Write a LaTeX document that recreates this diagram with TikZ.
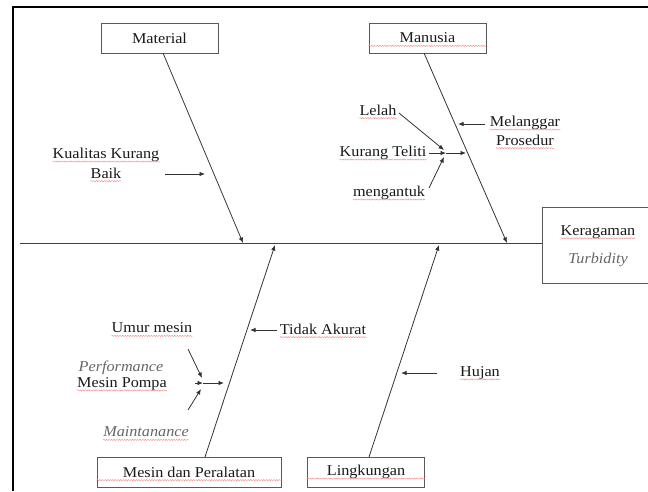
\documentclass[tikz,border=0pt]{standalone}
\usepackage{fontspec}
\setmainfont{Liberation Serif}[FakeStretch=1.08]
\usetikzlibrary{arrows.meta,decorations.pathmorphing}
\tikzset{
  every node/.style={font=\fontsize{15}{17}\selectfont, text=black!90, inner sep=0pt},
  box/.style={draw=black!65, line width=0.9pt, minimum height=30pt, inner sep=0pt},
  bone/.style={draw=black!75, line width=0.8pt},
  arr/.style={draw=black!80, line width=0.8pt, -{Latex[length=5.5pt,width=4.5pt]}},
  itl/.style={text=black!60, font=\fontsize{15}{17}\selectfont\itshape},
  squig/.style={draw=red!45, line width=0.45pt, decorate,
    decoration={snake, amplitude=0.6pt, segment length=2.6pt}},
}
\newcommand\sqn[1]{\draw[squig] ([yshift=-3pt]#1.base west) -- ([yshift=-3pt]#1.base east);}
\begin{document}
\begin{tikzpicture}[x=1pt,y=-1pt]
\useasboundingbox (0,0) rectangle (648,491);
% frame
\draw[line width=2pt] (13,491) -- (13,7) -- (648,7);
% category boxes
\node[box, minimum width=117pt] (mat) at (159.5,38) {Material};
\node[box, minimum width=117pt] (man) at (427.5,38) {Manusia};
\node[box, minimum width=184pt] (mes) at (189,472) {Mesin dan Peralatan};
\node[box, minimum width=117pt] (lin) at (366,472) {Lingkungan};
\node[box, minimum width=112pt, minimum height=76pt] (ker) at (598,245) {};
\node (ker1) at (598,232) {Keragaman};
\node[itl] (ker2) at (598,260) {Turbidity};
\sqn{man} \sqn{mes} \sqn{lin} \sqn{ker1}
% spine
\coordinate (sp0) at (20,243);
\draw[bone] (sp0) -- (sp0 -| ker.west);
% bones
\coordinate (matb) at (163,53);   \coordinate (matt) at (243,243);
\coordinate (manb) at (424,53);   \coordinate (mant) at (507,243);
\coordinate (mesb) at (205,457);  \coordinate (mest) at (275,245);
\coordinate (linb) at (369,457);  \coordinate (lint) at (439,245);
\draw[arr] (matb) -- (matt);
\draw[arr] (manb) -- (mant);
\draw[arr] (mesb) -- (mest);
\draw[arr] (linb) -- (lint);
% Material causes
\node (kual1) at (106,155) {Kualitas Kurang};
\node (kual2) at (106,173) {Baik};
\sqn{kual1} \sqn{kual2}
\coordinate (ka1) at (165,174); \coordinate (ka2) at (205,174);
\draw[arr] (ka1) -- (ka2);
% Manusia causes
\node (mel1) at (525,123) {Melanggar};
\node (mel2) at (525,140) {Prosedur};
\sqn{mel1} \sqn{mel2}
\coordinate (ml1) at (485,124); \coordinate (ml2) at (458,124);
\draw[arr] (ml1) -- (ml2);
\node (lel) at (378,110) {Lelah};
\node (kt) at (383,153) {Kurang Teliti};
\node (mgt) at (389,193) {mengantuk};
\sqn{lel} \sqn{kt} \sqn{mgt}
\coordinate (jm) at (446,153); \coordinate (jmt) at (466,153);
\coordinate (le1) at (399,113); \coordinate (le2) at (444,150);
\coordinate (kt1) at (429,153);
\coordinate (mg1) at (429,188); \coordinate (mg2) at (444,157);
\draw[arr] (le1) -- (le2);
\draw[arr] (kt1) -- (jm);
\draw[arr] (mg1) -- (mg2);
\draw[arr] (jm) -- (jmt);
% Mesin causes
\node (um) at (152,328) {Umur mesin};
\node[itl] (pm1n) at (121,368) {Performance};
\node (pm2n) at (122,384) {Mesin Pompa};
\node[itl] (mtn) at (146,432) {Maintanance};
\sqn{um} \sqn{pm2n} \sqn{mtn}
\coordinate (um1) at (188,349); \coordinate (um2) at (202,378);
\coordinate (pm1) at (195,383);
\coordinate (mt1) at (188,410); \coordinate (mt2) at (201,389);
\coordinate (jp) at (203,383); \coordinate (jpt) at (224,383);
\draw[arr] (um1) -- (um2);
\draw[arr] (pm1) -- (jp);
\draw[arr] (mt1) -- (mt2);
\draw[arr] (jp) -- (jpt);
\node (ta) at (323,329) {Tidak Akurat};
\sqn{ta}
\coordinate (ta1) at (277,330); \coordinate (ta2) at (250,330);
\draw[arr] (ta1) -- (ta2);
% Lingkungan cause
\node (hj) at (480,373) {Hujan};
\sqn{hj}
\coordinate (hj1) at (437,373); \coordinate (hj2) at (401,373);
\draw[arr] (hj1) -- (hj2);
\end{tikzpicture}
\end{document}
